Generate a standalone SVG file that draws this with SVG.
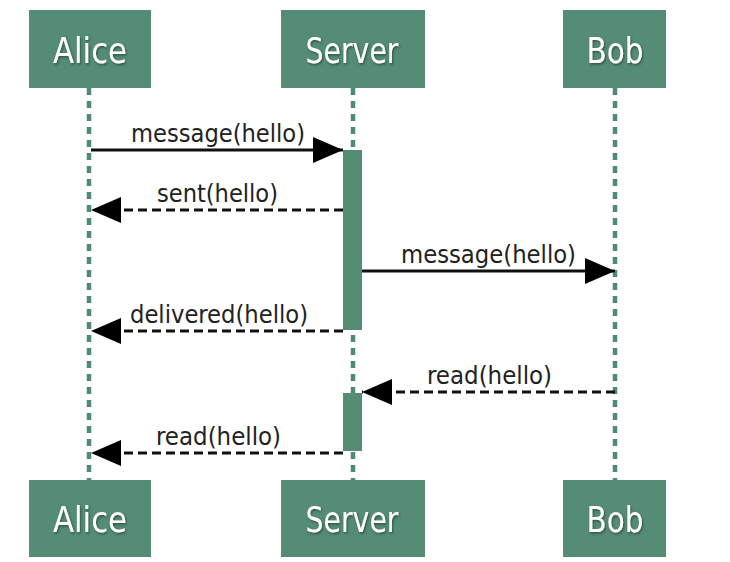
<svg xmlns="http://www.w3.org/2000/svg" width="730" height="562" viewBox="0 0 730 562">
<defs>
<style>
.box{fill:#558c76;}
.hdr{font-family:"DejaVu Sans Condensed","DejaVu Sans","Liberation Sans",sans-serif;font-size:35px;fill:#ffffff;text-anchor:middle;filter:url(#sh);}
.life{stroke:#4f8a72;stroke-width:4.5;stroke-dasharray:7 6;fill:none;}
.bar{fill:#558c76;}
.msg{stroke:#111;stroke-width:3;fill:none;}
.ret{stroke:#111;stroke-width:3;fill:none;stroke-dasharray:9 5;}
.lbl{font-family:"DejaVu Sans Condensed","DejaVu Sans","Liberation Sans",sans-serif;font-size:24px;fill:#222;text-anchor:middle;}
</style>
<filter id="sh" x="-10%" y="-10%" width="130%" height="140%">
<feDropShadow dx="1" dy="1.5" stdDeviation="0.8" flood-color="#1e3a2e" flood-opacity="0.7"/>
</filter>
<marker id="ah" markerUnits="userSpaceOnUse" markerWidth="30" markerHeight="26" refX="30" refY="13" orient="auto">
<polygon points="0,0 30,13 0,26" fill="#000"/>
</marker>
</defs>
<rect width="730" height="562" fill="#ffffff"/>
<g id="lifelines">
<line class="life" x1="89" y1="88" x2="89" y2="480"/>
<line class="life" x1="353" y1="88" x2="353" y2="480"/>
<line class="life" x1="615" y1="88" x2="615" y2="480"/>
</g>
<g id="alice-top"><rect class="box" x="29" y="10" width="122" height="78"/><text class="hdr" x="90" y="63" textLength="74" lengthAdjust="spacingAndGlyphs">Alice</text></g>
<g id="server-top"><rect class="box" x="281" y="10" width="144" height="78"/><text class="hdr" x="352" y="63" textLength="93" lengthAdjust="spacingAndGlyphs">Server</text></g>
<g id="bob-top"><rect class="box" x="563" y="10" width="103" height="78"/><text class="hdr" x="615" y="63" textLength="57" lengthAdjust="spacingAndGlyphs">Bob</text></g>
<g id="alice-bottom"><rect class="box" x="29" y="480" width="122" height="77"/><text class="hdr" x="90" y="532" textLength="74" lengthAdjust="spacingAndGlyphs">Alice</text></g>
<g id="server-bottom"><rect class="box" x="281" y="480" width="144" height="77"/><text class="hdr" x="352" y="532" textLength="93" lengthAdjust="spacingAndGlyphs">Server</text></g>
<g id="bob-bottom"><rect class="box" x="563" y="480" width="103" height="77"/><text class="hdr" x="615" y="532" textLength="57" lengthAdjust="spacingAndGlyphs">Bob</text></g>
<g id="activations">
<rect class="bar" x="343" y="150" width="19" height="180"/>
<rect class="bar" x="343" y="393" width="19" height="58"/>
</g>
<g id="connectors">
<line class="msg" x1="91" y1="150" x2="343" y2="150" marker-end="url(#ah)"/>
<text class="lbl" x="218" y="142" textLength="174" lengthAdjust="spacingAndGlyphs">message(hello)</text>
<line class="ret" x1="343" y1="210" x2="91" y2="210" marker-end="url(#ah)"/>
<text class="lbl" x="217.5" y="202" textLength="121" lengthAdjust="spacingAndGlyphs">sent(hello)</text>
<line class="msg" x1="362" y1="271" x2="615" y2="271" marker-end="url(#ah)"/>
<text class="lbl" x="488.5" y="263" textLength="175" lengthAdjust="spacingAndGlyphs">message(hello)</text>
<line class="ret" x1="343" y1="331" x2="91" y2="331" marker-end="url(#ah)"/>
<text class="lbl" x="219" y="323" textLength="178" lengthAdjust="spacingAndGlyphs">delivered(hello)</text>
<line class="ret" x1="615" y1="392" x2="362" y2="392" marker-end="url(#ah)"/>
<text class="lbl" x="489.5" y="384" textLength="125" lengthAdjust="spacingAndGlyphs">read(hello)</text>
<line class="ret" x1="343" y1="453" x2="91" y2="453" marker-end="url(#ah)"/>
<text class="lbl" x="218.5" y="445" textLength="125" lengthAdjust="spacingAndGlyphs">read(hello)</text>
</g>
</svg>
